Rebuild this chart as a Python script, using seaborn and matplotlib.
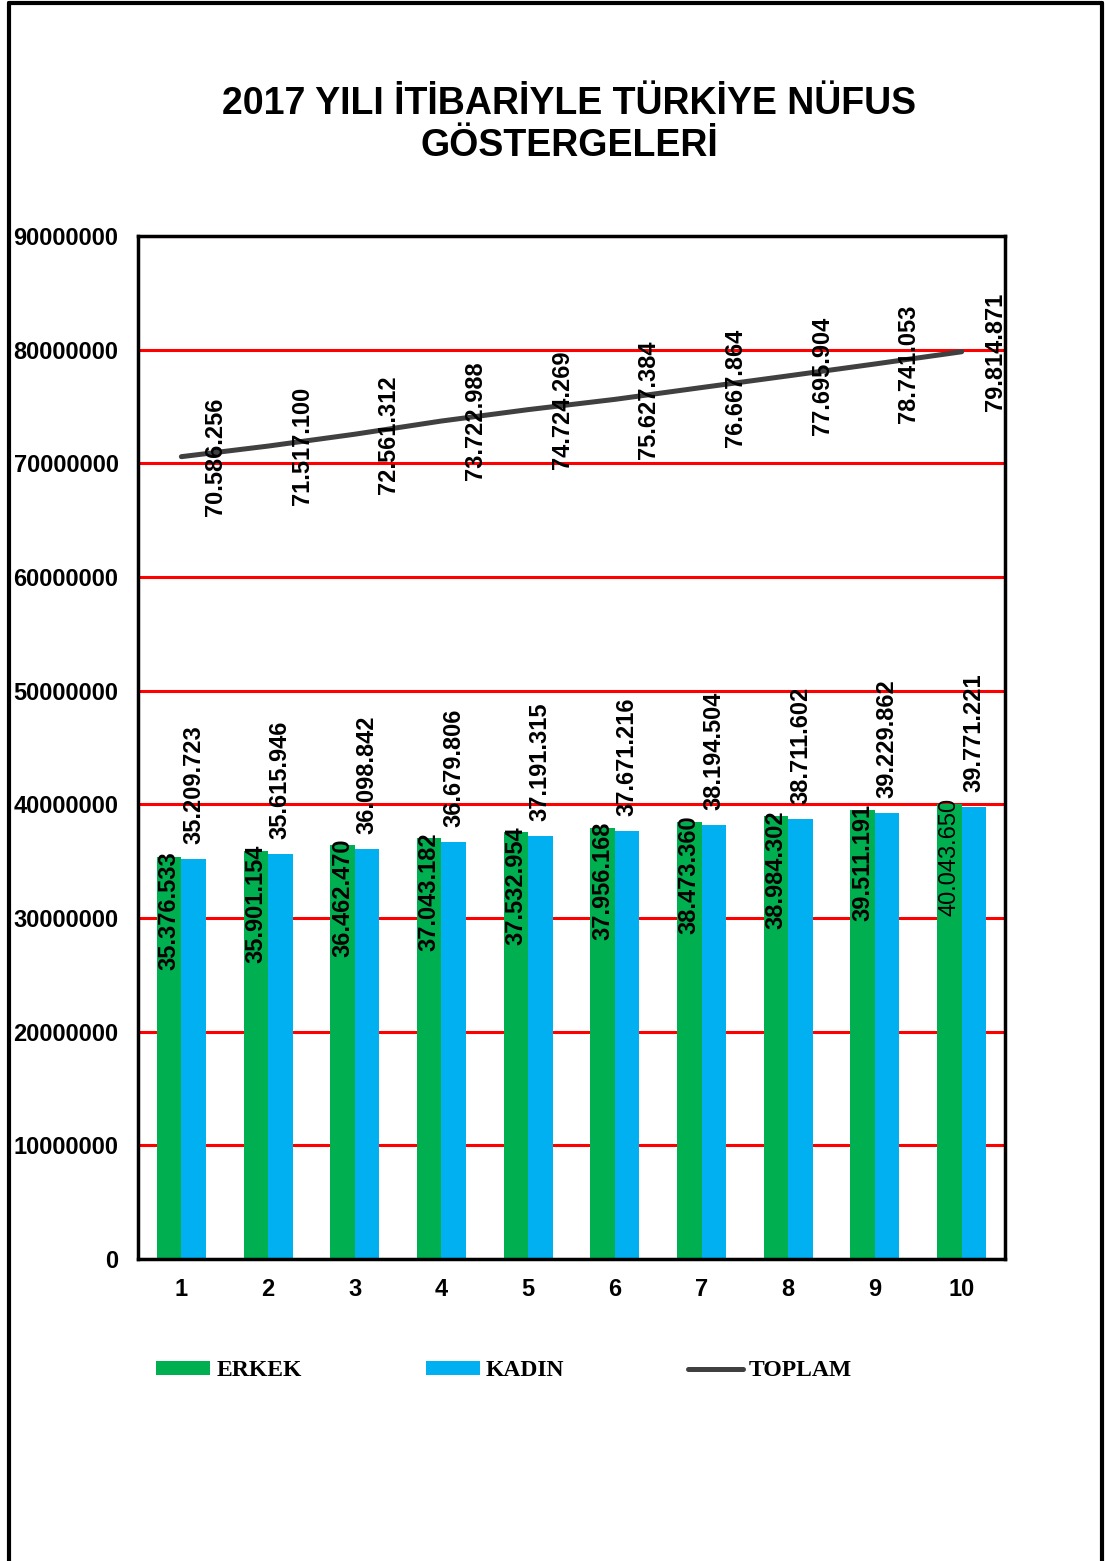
import numpy as np
import pandas as pd
import matplotlib
matplotlib.use("Agg")
import matplotlib.pyplot as plt
import seaborn as sns
from matplotlib.patches import Patch
from matplotlib.lines import Line2D
from matplotlib.ticker import FixedLocator

# ============================================================
# DATA
# ============================================================

siralar = [1, 2, 3, 4, 5, 6, 7, 8, 9, 10]

erkek = [35376533, 35901154, 36462470, 37043182, 37532954,
         37956168, 38473360, 38984302, 39511191, 40043650]

kadin = [35209723, 35615946, 36098842, 36679806, 37191315,
         37671216, 38194504, 38711602, 39229862, 39771221]

toplam = [70586256, 71517100, 72561312, 73722988, 74724269,
          75627384, 76667864, 77695904, 78741053, 79814871]

seri_adlari = ["ERKEK", "KADIN", "TOPLAM"]
y_ticks = [0, 10000000, 20000000, 30000000, 40000000,
           50000000, 60000000, 70000000, 80000000, 90000000]

baslik = "2017 YILI İTİBARİYLE TÜRKİYE NÜFUS\nGÖSTERGELERİ"

GREEN = "#00B050"
BLUE = "#00B0F0"
GRAY = "#404040"

# ============================================================
# STYLE
# ============================================================

sns.set_style("white")
plt.rcParams["font.family"] = ["Liberation Sans", "DejaVu Sans"]
plt.rcParams["text.color"] = "black"
plt.rcParams["xtick.color"] = "black"
plt.rcParams["ytick.color"] = "black"


def fmt(v):
    return f"{v:,}".replace(",", ".")


df = pd.DataFrame({
    "sira": siralar * 2,
    "deger": erkek + kadin,
    "seri": ["ERKEK"] * 10 + ["KADIN"] * 10,
})

# ============================================================
# FIGURE
# ============================================================

fig = plt.figure(figsize=(11.05, 15.61), dpi=100)
ax = fig.add_axes([138 / 1105, 1 - 1259 / 1561, 867 / 1105, 1023 / 1561])

sns.barplot(
    data=df, x="sira", y="deger", hue="seri",
    palette=[GREEN, BLUE], width=0.565, saturation=1,
    linewidth=0, ax=ax, legend=False, zorder=2
)

pos = np.arange(len(siralar))

sns.lineplot(
    x=pos, y=toplam, color=GRAY, linewidth=3.6,
    ax=ax, zorder=3, solid_capstyle="round"
)

# data labels
off = 0.565 / 4
for i in range(len(siralar)):
    ax.annotate(
        fmt(erkek[i]), (pos[i] - off, erkek[i]),
        xytext=(0, 6), textcoords="offset pixels",
        rotation=90, ha="center", va="top", fontsize=17,
        fontweight="normal" if i == 9 else "bold", zorder=5
    )
    ax.annotate(
        fmt(kadin[i]), (pos[i] + off, kadin[i]),
        xytext=(0, 15), textcoords="offset pixels",
        rotation=90, ha="center", va="bottom", fontsize=17,
        fontweight="bold", zorder=5
    )
    ax.annotate(
        fmt(toplam[i]), (pos[i], toplam[i]),
        xytext=(34, 0), textcoords="offset pixels",
        rotation=90, ha="center", va="center", fontsize=17,
        fontweight="bold", zorder=5
    )

# ============================================================
# AXES
# ============================================================

ax.set_xlim(-0.5, 9.5)
ax.set_ylim(0, 90000000)

ax.set_yticks(y_ticks)
ax.set_yticklabels([str(v) for v in y_ticks], fontsize=17, fontweight="bold")
ax.set_xticks(pos)
ax.set_xticklabels([str(s) for s in siralar], fontsize=17, fontweight="bold")
ax.xaxis.set_minor_locator(FixedLocator(np.arange(-0.5, 10, 1)))

ax.tick_params(axis="x", which="major", length=0, pad=14)
ax.tick_params(axis="x", which="minor", length=6, width=2.5, direction="out")
ax.tick_params(axis="y", length=6, width=2.5, direction="out", pad=8)

ax.set_xlabel("")
ax.set_ylabel("")

ax.yaxis.grid(True, color="red", linewidth=2.2)
ax.xaxis.grid(False)
ax.set_axisbelow(True)

for s in ax.spines.values():
    s.set_visible(True)
    s.set_color("black")
    s.set_linewidth(2.5)

# ============================================================
# TITLE + LEGEND
# ============================================================

fig.text(569 / 1105, 1 - 125 / 1561, baslik, ha="center", va="center",
         fontsize=27, fontweight="bold", linespacing=1.2)

handles = [
    Patch(facecolor=GREEN, edgecolor="none"),
    Patch(facecolor=BLUE, edgecolor="none"),
    Line2D([0], [0], color=GRAY, linewidth=3.6, solid_capstyle="round"),
]
fig.legend(
    handles, seri_adlari, loc="center left",
    bbox_to_anchor=(156 / 1105, 1 - 1371 / 1561),
    ncol=3, frameon=False, borderpad=0, borderaxespad=0,
    handlelength=2.3, handleheight=0.5, handletextpad=0.25,
    columnspacing=5.25,
    prop={"family": ["Liberation Serif", "DejaVu Serif"],
          "weight": "bold", "size": 17}
)

# page frame (left, top, right)
lw = 3
fig.add_artist(Line2D([9 / 1105, 9 / 1105], [0, 1 - 3 / 1561],
                      transform=fig.transFigure, color="black", lw=lw))
fig.add_artist(Line2D([9 / 1105, 1102 / 1105], [1 - 3 / 1561, 1 - 3 / 1561],
                      transform=fig.transFigure, color="black", lw=lw))
fig.add_artist(Line2D([1102 / 1105, 1102 / 1105], [0, 1 - 3 / 1561],
                      transform=fig.transFigure, color="black", lw=lw))

fig.savefig("out.png", dpi=100)
